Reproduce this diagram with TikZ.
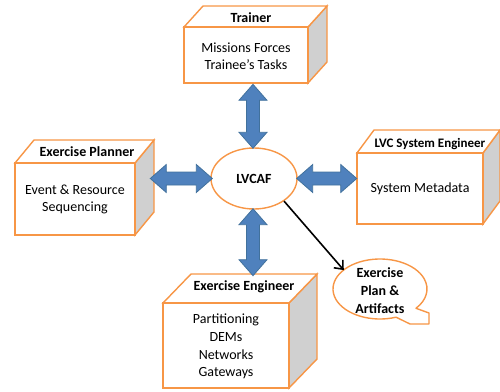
\documentclass[tikz,border=0pt]{standalone}
\usepackage{fontspec}
\setmainfont{Carlito}
\usetikzlibrary{shapes.geometric,arrows.meta,calc}

\definecolor{boxorange}{HTML}{F79646}
\definecolor{sidegray}{HTML}{D0D0D0}
\definecolor{arrowblue}{HTML}{4F81BD}
\definecolor{arrowedge}{HTML}{41719C}

\tikzset{
  face/.style={draw=boxorange, line width=1.4pt, fill=white, line join=miter},
  sideface/.style={draw=boxorange, line width=1.4pt, fill=sidegray, line join=miter},
  frontface/.style={face, rectangle, inner sep=0pt, outer sep=0pt},
  boxtitle/.style={font=\fontsize{14}{16}\selectfont\bfseries, inner sep=0pt},
  smalltitle/.style={font=\fontsize{13}{15}\selectfont\bfseries, inner sep=0pt},
  boxbody/.style={font=\fontsize{14}{17}\selectfont, align=center, inner sep=0pt},
  hub/.style={ellipse, draw=boxorange, line width=1.4pt, fill=white,
    minimum width=86pt, minimum height=61pt, inner sep=0pt,
    font=\fontsize{14}{16}\selectfont\bfseries},
  bubble/.style={ellipse, minimum width=94pt, minimum height=60pt, inner sep=0pt,
    align=center, font=\fontsize{14}{18}\selectfont\bfseries},
  bubbleline/.style={draw=boxorange, line width=1.4pt, fill=white, line join=round},
  blockarrow/.style={fill=arrowblue, draw=arrowedge, line width=0.8pt, line join=miter},
  flow/.style={line width=1.6pt, -{Straight Barb[length=7pt,width=12pt]}},
}

% 3-D block: #1 name, #2 left, #3 top, #4 right, #5 bottom, #6 depth x, #7 depth y
\newcommand\cubeblock[7]{%
  \filldraw[sideface] (#4,#3) -- ++(#6,-#7) -- ++(0,#5-#3) -- (#4,#5) -- cycle;
  \filldraw[face] (#2,#3) -- ++(#6,-#7) -- ++(#4-#2,0) -- (#4,#3) -- cycle;
  \node[frontface, minimum width=#4-#2, minimum height=#5-#3, anchor=north west]
    (#1) at (#2,#3) {};
}

% two-headed block arrow: #1 name, #2 start point, #3 direction angle, #4 length
\newcommand\twoway[4]{%
  \begin{scope}[shift={(#2)}, rotate=#3]
    \filldraw[blockarrow] (0,0) -- (16,-14) -- (16,-6.5) -- (#4-16,-6.5)
      -- (#4-16,-14) -- (#4,0) -- (#4-16,14) -- (#4-16,6.5) -- (16,6.5)
      -- (16,14) -- cycle;
    \coordinate (#1) at (#4/2,0);
  \end{scope}
}

\begin{document}
\begin{tikzpicture}[x=1pt, y=-1pt]
  \useasboundingbox (0,0) rectangle (500,391);

  % role blocks
  \cubeblock{trainer}{184}{27}{308}{83}{19}{21}
  \cubeblock{planner}{15}{163}{135}{235}{19}{23}
  \cubeblock{lvcse}{357}{153}{483}{224}{17}{23}
  \cubeblock{engineer}{163}{303}{289}{388}{28}{29}

  \node[boxtitle] (trainerT) at (251,17.5) {Trainer};
  \node[boxbody] (trainerB) at (246,56) {Missions Forces\\Trainee’s Tasks};

  \node[boxtitle] (plannerT) at (87,152) {Exercise Planner};
  \node[boxbody] (plannerB) at (75,199.5) {Event \& Resource\\Sequencing};

  \node[smalltitle] (lvcseT) at (430,144) {LVC System Engineer};
  \node[boxbody] (lvcseB) at (420,189) {System Metadata};

  \node[boxtitle] (engineerT) at (244,287) {Exercise Engineer};
  \node[boxbody, font=\fontsize{14}{17.7}\selectfont] (engineerB) at (226,346.5)
    {Partitioning\\DEMs\\Networks\\Gateways};

  % central framework
  \node[hub] (lvcaf) at (254,178.5) {LVCAF};

  % two-way exchanges
  \twoway{arrowW}{$(lvcaf.west)+(2,0)$}{180}{62}
  \twoway{arrowE}{$(lvcaf.east)+(-1,0)$}{0}{60}
  \twoway{arrowN}{$(lvcaf.north)+(-1,1)$}{90}{64}
  \twoway{arrowS}{$(lvcaf.south)+(-1,-1)$}{-90}{67}

  % output bubble
  \coordinate (bubbleC) at (380,289);
  \draw[bubbleline] ($(bubbleC)+(40:47 and 30)$) -- (429,313) -- (429,324)
    -- (410,324) -- ($(bubbleC)+(70:47 and 30)$)
    arc[start angle=70, end angle=400, x radius=47, y radius=30] -- cycle;
  \node[bubble] (plan) at (380,291) {Exercise\\Plan \&\\Artifacts};

  \draw[flow] (lvcaf.-37) -- (plan.150);
\end{tikzpicture}
\end{document}
